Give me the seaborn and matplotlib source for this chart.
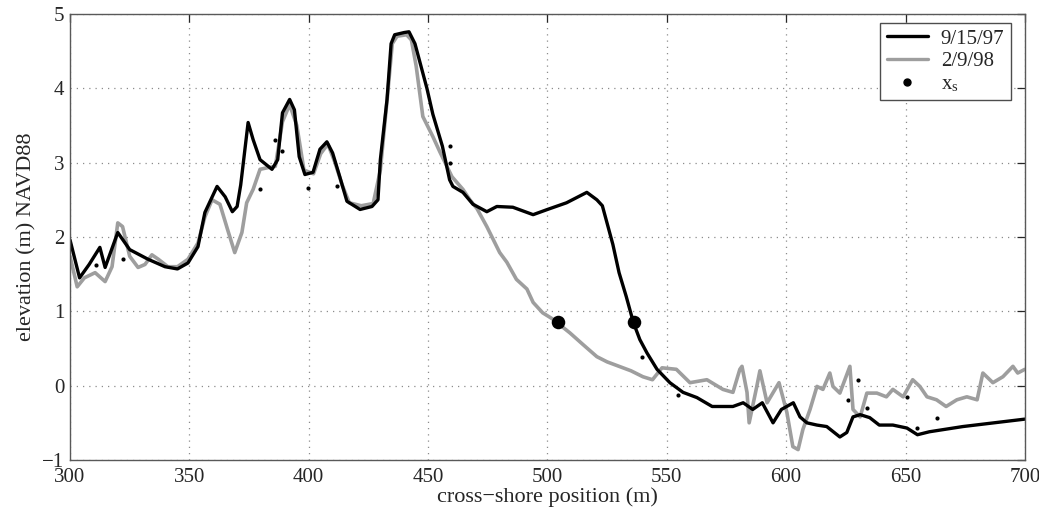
import seaborn as sns
import matplotlib.pyplot as plt
import pandas as pd
from matplotlib.lines import Line2D

# profile 9/15/97 (black)
x_sep = [300, 304, 308, 312.5, 314.7, 320, 325, 332.7, 339.8, 345, 349.4, 353.6, 356.5,
         361.6, 365, 368, 370, 371.5, 374.6, 376.7, 379.6, 384.6, 387, 389, 392, 394,
         396, 398.4, 401.8, 404.7, 407.6, 410, 413, 416, 421.5, 426.5, 429, 430, 432.8,
         434.5, 436, 440, 442, 444.5, 447, 449.5, 452, 456, 459, 460.4, 464.6, 468.8,
         474.6, 478.8, 485.5, 494, 500, 508, 516.5, 520.7, 523, 527.4, 530, 533, 536,
         538.7, 541.7, 545.9, 551.3, 556.8, 562.6, 569, 577.7, 582, 586, 590, 594.5,
         598, 603, 605.8, 608.7, 612.9, 617, 622.5, 625.4, 628, 631, 635, 639, 644.7,
         650.6, 655, 660, 674, 700]
y_sep = [1.96, 1.45, 1.63, 1.86, 1.59, 2.06, 1.83, 1.70, 1.60, 1.57, 1.65, 1.87, 2.33,
         2.68, 2.54, 2.34, 2.41, 2.70, 3.54, 3.31, 3.04, 2.91, 3.04, 3.67, 3.85, 3.71,
         3.08, 2.84, 2.87, 3.18, 3.28, 3.13, 2.81, 2.48, 2.37, 2.41, 2.50, 3.04, 3.85,
         4.60, 4.72, 4.75, 4.76, 4.60, 4.30, 4.00, 3.65, 3.22, 2.77, 2.68, 2.60, 2.44,
         2.34, 2.41, 2.40, 2.30, 2.37, 2.46, 2.60, 2.50, 2.42, 1.90, 1.52, 1.20, 0.85,
         0.62, 0.44, 0.22, 0.04, -0.09, -0.16, -0.28, -0.28, -0.23, -0.32, -0.23, -0.50,
         -0.32, -0.23, -0.42, -0.50, -0.53, -0.55, -0.69, -0.63, -0.42, -0.39, -0.43, -0.53,
         -0.53, -0.57, -0.66, -0.62, -0.55, -0.45]

# profile 2/9/98 (gray)
x_feb = [300, 303, 306, 310.5, 314.7, 317.6, 320, 322, 325, 328.5, 331.4, 334.3, 337,
         341, 345, 349.4, 353.6, 356.5, 359.5, 362.8, 366, 369, 372, 374, 376.7, 379.6,
         382.5, 386, 389, 392, 395, 398, 402, 405, 408, 411, 414, 417, 422, 427, 430,
         433, 435, 437, 441, 443, 445, 447.8, 452, 455, 460, 464.6, 467.5, 470.5, 474.6,
         480, 483, 487, 491.4, 494, 498, 502, 509.4, 515, 520.7, 525, 530, 535, 540,
         544, 548, 554, 559.7, 566.8, 573.5, 577.7, 580.6, 581.5, 583.6, 584.5, 587.7,
         589, 592, 597, 600.3, 602.8, 605, 607, 610, 612.9, 615.4, 618.3, 619.6, 622.5,
         624.6, 626.7, 628, 631, 633.8, 638, 642, 644.7, 649, 653, 656, 659, 663, 667,
         671.5, 675.7, 680, 682.4, 686.6, 690.8, 695, 697, 700]
y_feb = [1.74, 1.33, 1.45, 1.52, 1.40, 1.60, 2.19, 2.14, 1.74, 1.59, 1.63, 1.76, 1.70,
         1.60, 1.60, 1.70, 1.92, 2.27, 2.50, 2.44, 2.10, 1.79, 2.06, 2.46, 2.64, 2.91,
         2.93, 2.95, 3.55, 3.78, 3.50, 2.90, 2.85, 3.12, 3.25, 3.00, 2.70, 2.46, 2.42,
         2.45, 2.90, 3.90, 4.60, 4.70, 4.72, 4.65, 4.30, 3.62, 3.35, 3.14, 2.81, 2.64,
         2.50, 2.38, 2.14, 1.79, 1.66, 1.43, 1.30, 1.12, 0.98, 0.90, 0.71, 0.55, 0.39,
         0.32, 0.26, 0.20, 0.12, 0.08, 0.24, 0.22, 0.04, 0.08, -0.05, -0.09, 0.22, 0.26,
         -0.09, -0.50, -0.01, 0.20, -0.23, 0.04, -0.36, -0.82, -0.86, -0.59, -0.32, -0.01,
         -0.05, 0.17, -0.01, -0.10, 0.08, 0.26, -0.32, -0.42, -0.10, -0.10, -0.15, -0.05,
         -0.15, 0.08, -0.01, -0.15, -0.19, -0.28, -0.19, -0.15, -0.19, 0.17, 0.04, 0.12,
         0.26, 0.17, 0.22]

# shoreline positions x_s
xs_x = [504.4, 536.2]
xs_y = [0.85, 0.85]

# scattered raw survey points
raw_x = [311, 322, 379.6, 386, 389, 399.7, 411.8, 459, 459, 539.6, 554.7, 626, 630,
         634, 650.6, 655, 663]
raw_y = [1.62, 1.70, 2.64, 3.31, 3.15, 2.66, 2.68, 3.22, 3.0, 0.38, -0.12, -0.19, 0.08,
         -0.30, -0.15, -0.57, -0.44]

df_sep = pd.DataFrame({"x": x_sep, "y": y_sep})
df_feb = pd.DataFrame({"x": x_feb, "y": y_feb})
df_xs = pd.DataFrame({"x": xs_x, "y": xs_y})
df_raw = pd.DataFrame({"x": raw_x, "y": raw_y})

sns.set_theme(style="white")
plt.rcParams['font.family'] = ['Liberation Serif', 'DejaVu Serif']
plt.rcParams['mathtext.fontset'] = 'stix'

fig = plt.figure(figsize=(10.39, 5.16), dpi=100)
ax = fig.add_axes([0.0674, 0.1085, 0.919, 0.8645])

sns.lineplot(data=df_feb, x="x", y="y", color="0.62", linewidth=2.6,
             estimator=None, sort=False, ax=ax)
sns.lineplot(data=df_sep, x="x", y="y", color="black", linewidth=2.4,
             estimator=None, sort=False, ax=ax)
sns.scatterplot(data=df_raw, x="x", y="y", color="black", s=9, linewidth=0, ax=ax)
sns.scatterplot(data=df_xs, x="x", y="y", color="black", s=95, linewidth=0, ax=ax, zorder=5)

ax.set_xlim(300, 700)
ax.set_ylim(-1, 5)
ax.set_xticks(range(300, 701, 50))
ax.set_yticks(range(-1, 6))
ax.grid(True, linestyle=(0, (1, 4)), color="0.55", linewidth=0.9)
ax.tick_params(direction="in", length=6, width=0.9, top=True, right=True,
               labelsize=15, colors="0.15")
ax.tick_params(axis="x", pad=6)
ax.tick_params(axis="y", pad=4)
for sp in ax.spines.values():
    sp.set_color("0.35")
    sp.set_linewidth(1.0)

ax.set_xlabel("cross\u2212shore position (m)", fontsize=16, labelpad=0)
ax.set_ylabel("elevation (m) NAVD88", fontsize=16, labelpad=4)

handles = [
    Line2D([], [], color="black", linewidth=2.4),
    Line2D([], [], color="0.62", linewidth=2.4),
    Line2D([], [], color="black", marker="o", linestyle="none", markersize=5),
]
labels = ["9/15/97", "2/9/98", r"x$_\mathregular{s}$"]
leg = ax.legend(handles, labels, loc="upper right", bbox_to_anchor=(0.985, 0.98),
                fontsize=15, frameon=True, fancybox=False, framealpha=1,
                edgecolor="0.3", handlelength=2.0, handletextpad=0.6,
                borderpad=0.3, labelspacing=0.15, borderaxespad=0)
leg.get_frame().set_linewidth(1.0)

plt.savefig("out.png", dpi=100)
plt.close()
